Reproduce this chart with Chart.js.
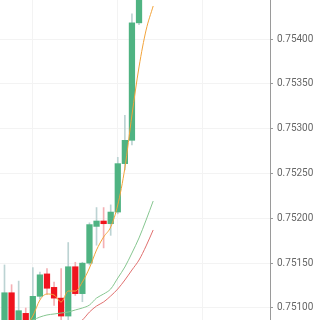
<!DOCTYPE html>
<html>
<head>
<meta charset="utf-8">
<script src="https://cdn.jsdelivr.net/npm/chart.js@4/dist/chart.umd.min.js"></script>
<style>
  html, body { margin: 0; padding: 0; background: #fff; }
  #wrap { width: 320px; height: 320px; }
</style>
</head>
<body>
<div id="wrap"><canvas id="kline"></canvas></div>
<script>
// K线数据
const opens  = [0.75080, 0.75117, 0.75080, 0.75094, 0.75082, 0.75113, 0.75138, 0.75123, 0.75111, 0.75091, 0.75146,
                0.75116, 0.75150, 0.75191, 0.75197, 0.75194, 0.75207, 0.75261, 0.75287, 0.75418, 0.75470, 0.75505];
const highs  = [0.75148, 0.75126, 0.75130, 0.75100, 0.75145, 0.75140, 0.75144, 0.75129, 0.75144, 0.75173, 0.75151,
                0.75151, 0.75195, 0.75212, 0.75212, 0.75215, 0.75268, 0.75315, 0.75428, 0.75480, 0.75520, 0.75530];
const lows   = [0.75070, 0.75072, 0.75070, 0.75070, 0.75075, 0.75110, 0.75115, 0.75103, 0.75087, 0.75085, 0.75114,
                0.75107, 0.75148, 0.75170, 0.75167, 0.75181, 0.75205, 0.75254, 0.75282, 0.75416, 0.75460, 0.75490];
const closes = [0.75117, 0.75082, 0.75097, 0.75078, 0.75113, 0.75137, 0.75122, 0.75111, 0.75091, 0.75146, 0.75116,
                0.75150, 0.75193, 0.75197, 0.75194, 0.75207, 0.75261, 0.75287, 0.75418, 0.75470, 0.75505, 0.75500];

// 均线
const ma5  = [0.75070, 0.75072, 0.75075, 0.75080, 0.750911, 0.751089, 0.751156, 0.751145, 0.751067, 0.751189, 0.751189,
              0.751290, 0.751446, 0.751647, 0.751792, 0.751903, 0.752149, 0.752561, 0.753152, 0.753688, 0.754100, 0.754368];
const ma10 = [0.75075, 0.75077, 0.75080, 0.75084, 0.750866, 0.750899, 0.750922, 0.750933, 0.750944, 0.750955, 0.750978,
              0.751000, 0.751033, 0.751111, 0.751156, 0.751212, 0.751334, 0.751457, 0.751613, 0.751781, 0.751981, 0.752193];
const ma20 = [0.75060, 0.75062, 0.75064, 0.75066, 0.75068, 0.75070, 0.75072, 0.75074, 0.75076, 0.75079, 0.75082,
              0.750866, 0.750955, 0.751022, 0.751067, 0.751134, 0.751212, 0.751312, 0.751424, 0.751535, 0.751692, 0.751870];

const yTicks = [0.7510, 0.7515, 0.7520, 0.7525, 0.7530, 0.7535, 0.7540];

const UP = '#4fb382', DOWN = '#f0141e';
const UP_WICK = '#bcd3d3', DOWN_WICK = '#f4b0b4';

const isUp = opens.map((o, i) => closes[i] >= o);

new Chart(document.getElementById('kline'), {
  type: 'bar',
  data: {
    datasets: [
      {
        type: 'line', label: 'MA5', order: 0,
        data: ma5.map((v, i) => ({ x: i, y: v })),
        borderColor: '#f2a33a', borderWidth: 1, pointRadius: 0, cubicInterpolationMode: 'monotone'
      },
      {
        type: 'line', label: 'MA10', order: 0,
        data: ma10.map((v, i) => ({ x: i, y: v })),
        borderColor: '#86c690', borderWidth: 1, pointRadius: 0, cubicInterpolationMode: 'monotone'
      },
      {
        type: 'line', label: 'MA20', order: 0,
        data: ma20.map((v, i) => ({ x: i, y: v })),
        borderColor: '#e0706f', borderWidth: 1, pointRadius: 0, cubicInterpolationMode: 'monotone'
      },
      {
        label: 'body', order: 1, grouped: false,
        data: opens.map((o, i) => ({ x: i, y: [o, closes[i]] })),
        backgroundColor: isUp.map(u => u ? UP : DOWN),
        barThickness: 5.6
      },
      {
        label: 'wick', order: 2, grouped: false,
        data: lows.map((l, i) => ({ x: i, y: [l, highs[i]] })),
        backgroundColor: isUp.map(u => u ? UP_WICK : DOWN_WICK),
        barThickness: 1
      }
    ]
  },
  options: {
    responsive: true,
    maintainAspectRatio: false,
    animation: false,
    devicePixelRatio: 1,
    layout: { padding: 0 },
    plugins: { legend: { display: false }, tooltip: { enabled: false } },
    scales: {
      x: {
        type: 'linear',
        min: -0.636, max: 37.5,
        offset: false,
        grid: { color: '#f3f3f3', drawTicks: false, offset: false },
        border: { display: false },
        ticks: { display: false },
        afterBuildTicks: s => { s.ticks = [4, 16, 28].map(v => ({ value: v })); },
        afterFit: s => { s.height = 0; s.paddingLeft = 0; s.paddingRight = 0; }
      },
      y: {
        position: 'right',
        min: 0.750866, max: 0.754435,
        grid: { color: '#f3f3f3', tickColor: '#9a9a9a', tickLength: 3 },
        border: { color: '#9a9a9a', width: 1 },
        ticks: {
          color: '#666', padding: 4,
          font: { family: 'Roboto', size: 10 },
          callback: v => Number(v).toFixed(5)
        },
        afterBuildTicks: s => { s.ticks = yTicks.map(v => ({ value: v })); },
        afterFit: s => { s.width = 50; s.paddingTop = 0; s.paddingBottom = 0; }
      }
    }
  }
});
</script>
</body>
</html>
